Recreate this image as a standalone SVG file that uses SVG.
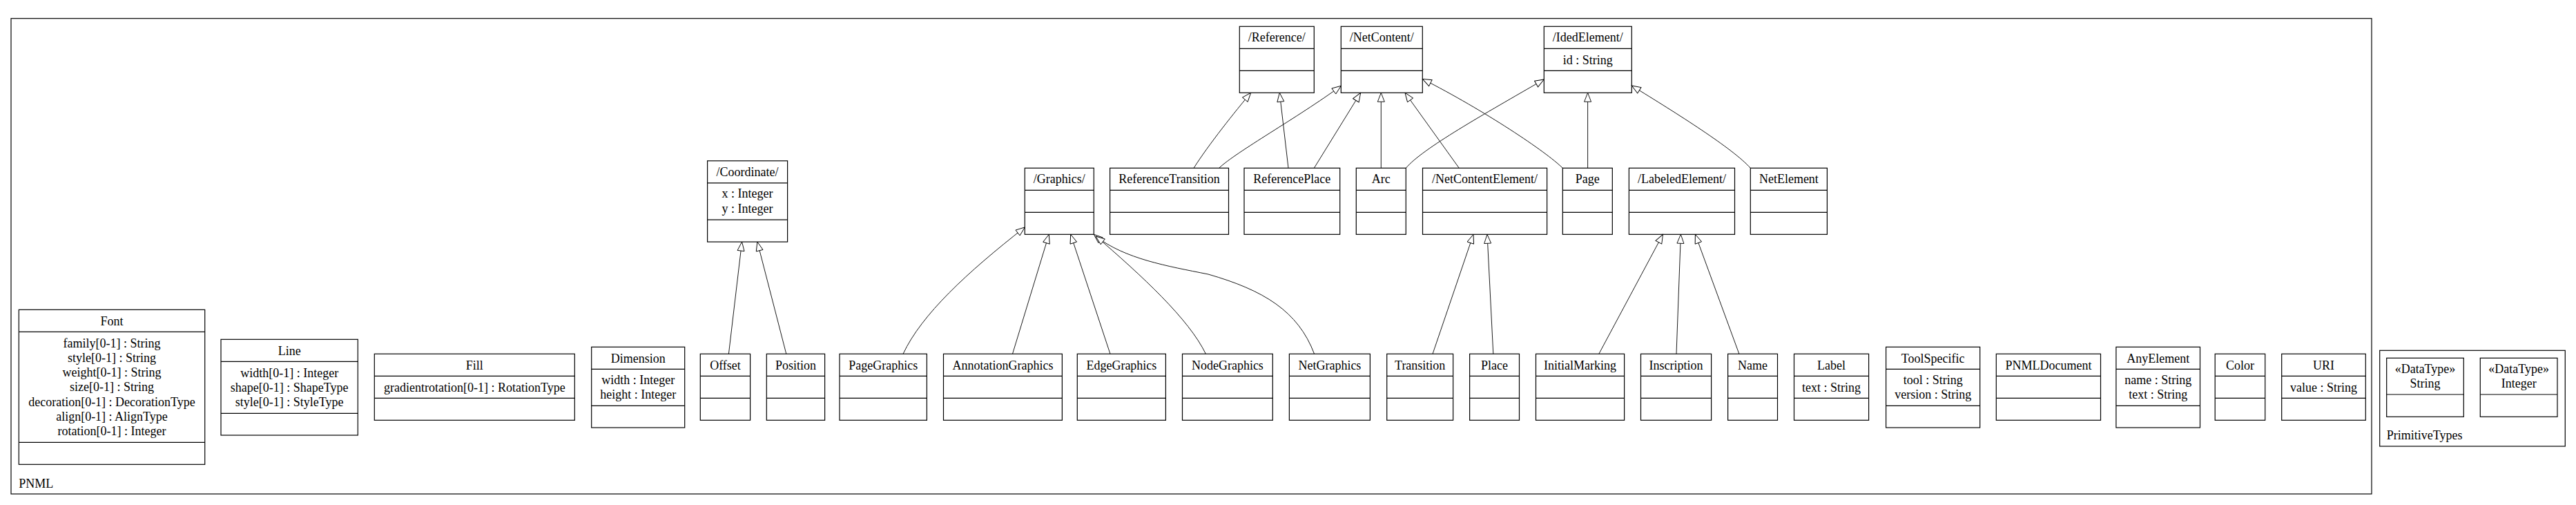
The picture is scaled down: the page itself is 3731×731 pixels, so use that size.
<svg xmlns="http://www.w3.org/2000/svg" width="3731" height="731" viewBox="0 0 3731 731">
<style>
.frame{fill:none;stroke:#000;stroke-width:1.2}
.box{fill:#fff;stroke:#000;stroke-width:1.2}
.sep{stroke:#000;stroke-width:1.2}
.t{font-family:"Liberation Serif","Times New Roman",serif;font-size:18px;fill:#000;text-anchor:middle}
.l{font-family:"Liberation Serif","Times New Roman",serif;font-size:18px;fill:#000;text-anchor:start}
.e{fill:none;stroke:#000;stroke-width:0.9;marker-end:url(#gen)}
</style>
<defs>
<marker id="gen" markerUnits="userSpaceOnUse" markerWidth="15" markerHeight="12" viewBox="0 0 15 12" refX="14" refY="6" orient="auto">
<path d="M1,1 L14,6 L1,11 Z" fill="#fff" stroke="#000" stroke-width="0.9"/>
</marker>
</defs>
<rect width="3731" height="731" fill="#fff"/>

<g id="pkg-PNML">
<rect class="frame" x="16" y="26.7" width="3419" height="688.3"/>
<text class="l" x="27.3" y="705.5">PNML</text>
</g>
<g id="pkg-PrimitiveTypes">
<rect class="frame" x="3446.7" y="507.3" width="268.6" height="138.7"/>
<text class="l" x="3456.7" y="635.5">PrimitiveTypes</text>
</g>

<!-- Row 1 -->
<g id="Reference">
<rect class="box" x="1795.3" y="38.3" width="108" height="96"/>
<line class="sep" x1="1795.3" y1="70.3" x2="1903.3" y2="70.3"/><line class="sep" x1="1795.3" y1="102.3" x2="1903.3" y2="102.3"/>
<text class="t" x="1849.3" y="60">/Reference/</text>
</g>
<g id="NetContent">
<rect class="box" x="1942.3" y="38.3" width="118" height="96"/>
<line class="sep" x1="1942.3" y1="70.3" x2="2060.3" y2="70.3"/><line class="sep" x1="1942.3" y1="102.3" x2="2060.3" y2="102.3"/>
<text class="t" x="2001.3" y="60">/NetContent/</text>
</g>
<g id="IdedElement">
<rect class="box" x="2236.3" y="38.3" width="127" height="96"/>
<line class="sep" x1="2236.3" y1="70.3" x2="2363.3" y2="70.3"/><line class="sep" x1="2236.3" y1="102.3" x2="2363.3" y2="102.3"/>
<text class="t" x="2299.8" y="60">/IdedElement/</text>
<text class="t" x="2299.8" y="92.8">id : String</text>
</g>

<!-- Row 2 -->
<g id="Coordinate">
<rect class="box" x="1024.6" y="232.8" width="116" height="117.3"/>
<line class="sep" x1="1024.6" y1="264.8" x2="1140.6" y2="264.8"/><line class="sep" x1="1024.6" y1="318.1" x2="1140.6" y2="318.1"/>
<text class="t" x="1082.6" y="254.5">/Coordinate/</text>
<text class="t" x="1082.6" y="286.3">x : Integer</text>
<text class="t" x="1082.6" y="307.5">y : Integer</text>
</g>
<g id="Graphics">
<rect class="box" x="1484.3" y="243.3" width="100" height="96"/>
<line class="sep" x1="1484.3" y1="275.3" x2="1584.3" y2="275.3"/><line class="sep" x1="1484.3" y1="307.3" x2="1584.3" y2="307.3"/>
<text class="t" x="1534.3" y="265">/Graphics/</text>
</g>
<g id="ReferenceTransition">
<rect class="box" x="1607.6" y="243.3" width="171.9" height="96"/>
<line class="sep" x1="1607.6" y1="275.3" x2="1779.5" y2="275.3"/><line class="sep" x1="1607.6" y1="307.3" x2="1779.5" y2="307.3"/>
<text class="t" x="1693.5" y="265">ReferenceTransition</text>
</g>
<g id="ReferencePlace">
<rect class="box" x="1802" y="243.3" width="138.7" height="96"/>
<line class="sep" x1="1802" y1="275.3" x2="1940.7" y2="275.3"/><line class="sep" x1="1802" y1="307.3" x2="1940.7" y2="307.3"/>
<text class="t" x="1871.3" y="265">ReferencePlace</text>
</g>
<g id="Arc">
<rect class="box" x="1964.3" y="243.3" width="72" height="96"/>
<line class="sep" x1="1964.3" y1="275.3" x2="2036.3" y2="275.3"/><line class="sep" x1="1964.3" y1="307.3" x2="2036.3" y2="307.3"/>
<text class="t" x="2000.3" y="265">Arc</text>
</g>
<g id="NetContentElement">
<rect class="box" x="2060.5" y="243.3" width="180.1" height="96"/>
<line class="sep" x1="2060.5" y1="275.3" x2="2240.6" y2="275.3"/><line class="sep" x1="2060.5" y1="307.3" x2="2240.6" y2="307.3"/>
<text class="t" x="2150.5" y="265">/NetContentElement/</text>
</g>
<g id="Page">
<rect class="box" x="2263.3" y="243.3" width="72" height="96"/>
<line class="sep" x1="2263.3" y1="275.3" x2="2335.3" y2="275.3"/><line class="sep" x1="2263.3" y1="307.3" x2="2335.3" y2="307.3"/>
<text class="t" x="2299.3" y="265">Page</text>
</g>
<g id="LabeledElement">
<rect class="box" x="2359.4" y="243.3" width="153.1" height="96"/>
<line class="sep" x1="2359.4" y1="275.3" x2="2512.5" y2="275.3"/><line class="sep" x1="2359.4" y1="307.3" x2="2512.5" y2="307.3"/>
<text class="t" x="2436" y="265">/LabeledElement/</text>
</g>
<g id="NetElement">
<rect class="box" x="2535.3" y="243.3" width="111.1" height="96"/>
<line class="sep" x1="2535.3" y1="275.3" x2="2646.4" y2="275.3"/><line class="sep" x1="2535.3" y1="307.3" x2="2646.4" y2="307.3"/>
<text class="t" x="2590.9" y="265">NetElement</text>
</g>

<!-- Row 3 -->
<g id="Font">
<rect class="box" x="27.3" y="448.3" width="269.4" height="224"/>
<line class="sep" x1="27.3" y1="480.3" x2="296.7" y2="480.3"/><line class="sep" x1="27.3" y1="640.3" x2="296.7" y2="640.3"/>
<text class="t" x="162" y="470.5">Font</text>
<text class="t" x="162" y="502.5">family[0-1] : String</text>
<text class="t" x="162" y="523.8">style[0-1] : String</text>
<text class="t" x="162" y="545">weight[0-1] : String</text>
<text class="t" x="162" y="566.3">size[0-1] : String</text>
<text class="t" x="162" y="587.5">decoration[0-1] : DecorationType</text>
<text class="t" x="162" y="608.8">align[0-1] : AlignType</text>
<text class="t" x="162" y="630">rotation[0-1] : Integer</text>
</g>
<g id="Line">
<rect class="box" x="320" y="491.3" width="198.3" height="138.7"/>
<line class="sep" x1="320" y1="523.3" x2="518.3" y2="523.3"/><line class="sep" x1="320" y1="598.3" x2="518.3" y2="598.3"/>
<text class="t" x="419.2" y="514">Line</text>
<text class="t" x="419.2" y="545.5">width[0-1] : Integer</text>
<text class="t" x="419.2" y="566.8">shape[0-1] : ShapeType</text>
<text class="t" x="419.2" y="588">style[0-1] : StyleType</text>
</g>
<g id="Fill">
<rect class="box" x="542.3" y="512.3" width="290" height="96"/>
<line class="sep" x1="542.3" y1="544.3" x2="832.3" y2="544.3"/><line class="sep" x1="542.3" y1="576.3" x2="832.3" y2="576.3"/>
<text class="t" x="687.3" y="534.5">Fill</text>
<text class="t" x="687.3" y="567">gradientrotation[0-1] : RotationType</text>
</g>
<g id="Dimension">
<rect class="box" x="856.7" y="502.3" width="135" height="116.7"/>
<line class="sep" x1="856.7" y1="534.3" x2="991.7" y2="534.3"/><line class="sep" x1="856.7" y1="587.3" x2="991.7" y2="587.3"/>
<text class="t" x="924.2" y="524.5">Dimension</text>
<text class="t" x="924.2" y="556">width : Integer</text>
<text class="t" x="924.2" y="577">height : Integer</text>
</g>
<g id="Offset">
<rect class="box" x="1014.3" y="512.3" width="72.3" height="96"/>
<line class="sep" x1="1014.3" y1="544.3" x2="1086.6" y2="544.3"/><line class="sep" x1="1014.3" y1="576.3" x2="1086.6" y2="576.3"/>
<text class="t" x="1050.5" y="534.5">Offset</text>
</g>
<g id="Position">
<rect class="box" x="1110.3" y="512.3" width="84.3" height="96"/>
<line class="sep" x1="1110.3" y1="544.3" x2="1194.6" y2="544.3"/><line class="sep" x1="1110.3" y1="576.3" x2="1194.6" y2="576.3"/>
<text class="t" x="1152.5" y="534.5">Position</text>
</g>
<g id="PageGraphics">
<rect class="box" x="1216" y="512.3" width="126.4" height="96"/>
<line class="sep" x1="1216" y1="544.3" x2="1342.4" y2="544.3"/><line class="sep" x1="1216" y1="576.3" x2="1342.4" y2="576.3"/>
<text class="t" x="1279.2" y="534.5">PageGraphics</text>
</g>
<g id="AnnotationGraphics">
<rect class="box" x="1366.5" y="512.3" width="171.9" height="96"/>
<line class="sep" x1="1366.5" y1="544.3" x2="1538.4" y2="544.3"/><line class="sep" x1="1366.5" y1="576.3" x2="1538.4" y2="576.3"/>
<text class="t" x="1452.5" y="534.5">AnnotationGraphics</text>
</g>
<g id="EdgeGraphics">
<rect class="box" x="1560.3" y="512.3" width="128.1" height="96"/>
<line class="sep" x1="1560.3" y1="544.3" x2="1688.4" y2="544.3"/><line class="sep" x1="1560.3" y1="576.3" x2="1688.4" y2="576.3"/>
<text class="t" x="1624.4" y="534.5">EdgeGraphics</text>
</g>
<g id="NodeGraphics">
<rect class="box" x="1712.5" y="512.3" width="130.8" height="96"/>
<line class="sep" x1="1712.5" y1="544.3" x2="1843.3" y2="544.3"/><line class="sep" x1="1712.5" y1="576.3" x2="1843.3" y2="576.3"/>
<text class="t" x="1777.9" y="534.5">NodeGraphics</text>
</g>
<g id="NetGraphics">
<rect class="box" x="1867.4" y="512.3" width="117" height="96"/>
<line class="sep" x1="1867.4" y1="544.3" x2="1984.4" y2="544.3"/><line class="sep" x1="1867.4" y1="576.3" x2="1984.4" y2="576.3"/>
<text class="t" x="1925.9" y="534.5">NetGraphics</text>
</g>
<g id="Transition">
<rect class="box" x="2008.7" y="512.3" width="95.9" height="96"/>
<line class="sep" x1="2008.7" y1="544.3" x2="2104.6" y2="544.3"/><line class="sep" x1="2008.7" y1="576.3" x2="2104.6" y2="576.3"/>
<text class="t" x="2056.7" y="534.5">Transition</text>
</g>
<g id="Place">
<rect class="box" x="2128.6" y="512.3" width="71.9" height="96"/>
<line class="sep" x1="2128.6" y1="544.3" x2="2200.5" y2="544.3"/><line class="sep" x1="2128.6" y1="576.3" x2="2200.5" y2="576.3"/>
<text class="t" x="2164.6" y="534.5">Place</text>
</g>
<g id="InitialMarking">
<rect class="box" x="2224.5" y="512.3" width="128.1" height="96"/>
<line class="sep" x1="2224.5" y1="544.3" x2="2352.6" y2="544.3"/><line class="sep" x1="2224.5" y1="576.3" x2="2352.6" y2="576.3"/>
<text class="t" x="2288.6" y="534.5">InitialMarking</text>
</g>
<g id="Inscription">
<rect class="box" x="2376.5" y="512.3" width="102.1" height="96"/>
<line class="sep" x1="2376.5" y1="544.3" x2="2478.6" y2="544.3"/><line class="sep" x1="2376.5" y1="576.3" x2="2478.6" y2="576.3"/>
<text class="t" x="2427.6" y="534.5">Inscription</text>
</g>
<g id="Name">
<rect class="box" x="2502.6" y="512.3" width="71.9" height="96"/>
<line class="sep" x1="2502.6" y1="544.3" x2="2574.5" y2="544.3"/><line class="sep" x1="2502.6" y1="576.3" x2="2574.5" y2="576.3"/>
<text class="t" x="2538.6" y="534.5">Name</text>
</g>
<g id="Label">
<rect class="box" x="2598.5" y="512.3" width="108.1" height="96"/>
<line class="sep" x1="2598.5" y1="544.3" x2="2706.6" y2="544.3"/><line class="sep" x1="2598.5" y1="576.3" x2="2706.6" y2="576.3"/>
<text class="t" x="2652.6" y="534.5">Label</text>
<text class="t" x="2652.6" y="567">text : String</text>
</g>
<g id="ToolSpecific">
<rect class="box" x="2731.6" y="502.3" width="136.1" height="116.7"/>
<line class="sep" x1="2731.6" y1="534.3" x2="2867.7" y2="534.3"/><line class="sep" x1="2731.6" y1="587.3" x2="2867.7" y2="587.3"/>
<text class="t" x="2799.7" y="524.5">ToolSpecific</text>
<text class="t" x="2799.7" y="556">tool : String</text>
<text class="t" x="2799.7" y="577">version : String</text>
</g>
<g id="PNMLDocument">
<rect class="box" x="2891.3" y="512.3" width="151.2" height="96"/>
<line class="sep" x1="2891.3" y1="544.3" x2="3042.5" y2="544.3"/><line class="sep" x1="2891.3" y1="576.3" x2="3042.5" y2="576.3"/>
<text class="t" x="2966.9" y="534.5">PNMLDocument</text>
</g>
<g id="AnyElement">
<rect class="box" x="3064.9" y="502.3" width="121.6" height="116.7"/>
<line class="sep" x1="3064.9" y1="534.3" x2="3186.5" y2="534.3"/><line class="sep" x1="3064.9" y1="587.3" x2="3186.5" y2="587.3"/>
<text class="t" x="3125.7" y="524.5">AnyElement</text>
<text class="t" x="3125.7" y="556">name : String</text>
<text class="t" x="3125.7" y="577">text : String</text>
</g>
<g id="Color">
<rect class="box" x="3208.2" y="512.3" width="72.5" height="96"/>
<line class="sep" x1="3208.2" y1="544.3" x2="3280.7" y2="544.3"/><line class="sep" x1="3208.2" y1="576.3" x2="3280.7" y2="576.3"/>
<text class="t" x="3244.5" y="534.5">Color</text>
</g>
<g id="URI">
<rect class="box" x="3304.7" y="512.3" width="121.6" height="96"/>
<line class="sep" x1="3304.7" y1="544.3" x2="3426.3" y2="544.3"/><line class="sep" x1="3304.7" y1="576.3" x2="3426.3" y2="576.3"/>
<text class="t" x="3365.5" y="534.5">URI</text>
<text class="t" x="3365.5" y="567">value : String</text>
</g>
<g id="String">
<rect class="box" x="3456.7" y="518.3" width="111.6" height="85"/>
<line class="sep" x1="3456.7" y1="571" x2="3568.3" y2="571"/>
<text class="t" x="3512.5" y="539.5">«DataType»</text>
<text class="t" x="3512.5" y="561">String</text>
</g>
<g id="Integer">
<rect class="box" x="3592.3" y="518.3" width="111.7" height="85"/>
<line class="sep" x1="3592.3" y1="571" x2="3704" y2="571"/>
<text class="t" x="3648.2" y="539.5">«DataType»</text>
<text class="t" x="3648.2" y="561">Integer</text>
</g>

<g id="connectors">
<path class="e" d="M1055.4,512.3 L1074.6,350.1"/>
<path class="e" d="M1138.8,512.3 L1096.9,350.1"/>
<path class="e" d="M1308,512.3 C1335,455 1400,395 1484.3,329"/>
<path class="e" d="M1466.5,512.3 L1519.3,339.3"/>
<path class="e" d="M1608,512.3 L1550.7,339.3"/>
<path class="e" d="M1746.4,512.3 C1722,462 1655,400 1584.3,339.3"/>
<path class="e" d="M1903.6,512.3 C1880,450 1830,420 1750,397 C1690,385 1630,375 1587,342"/>
<path class="e" d="M2075,512.3 L2134,339.3"/>
<path class="e" d="M2162.8,512.3 L2154,339.3"/>
<path class="e" d="M2315.8,512.3 L2408.5,339.3"/>
<path class="e" d="M2428,512.3 L2434.4,339.3"/>
<path class="e" d="M2518.9,512.3 L2455.4,339.3"/>
<path class="e" d="M1729,243.3 C1750,210 1790,160 1811.7,134.3"/>
<path class="e" d="M1765.6,243.3 C1790,220 1880,170 1942.3,124.3"/>
<path class="e" d="M1866,243.3 L1853.3,134.3"/>
<path class="e" d="M1903.3,243.3 L1970.7,134.3"/>
<path class="e" d="M2000.3,243.3 L2000.3,134.3"/>
<path class="e" d="M2036.3,243.3 C2060,215 2150,165 2236.3,115"/>
<path class="e" d="M2113.3,243.3 L2035,134.3"/>
<path class="e" d="M2263.3,243.3 C2240,220 2150,160 2060.3,114.3"/>
<path class="e" d="M2299.6,243.3 L2299.6,134.3"/>
<path class="e" d="M2535.3,243.3 C2510,215 2430,165 2363.3,124"/>
</g>
</svg>
